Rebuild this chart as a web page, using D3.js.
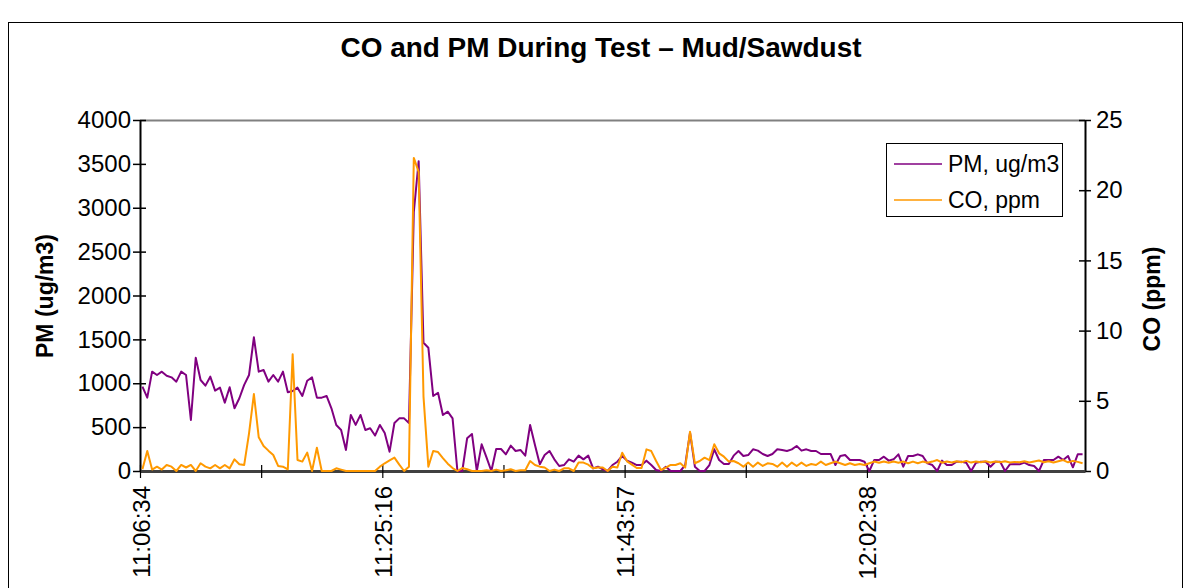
<!DOCTYPE html>
<html><head><meta charset="utf-8">
<script src="https://cdn.jsdelivr.net/npm/d3@7"></script>
<style>
body{margin:0;background:#fff}
svg{display:block}
text{font-family:"Liberation Sans",Arial,sans-serif;fill:#000}
</style>
</head><body>
<svg id="c" width="1189" height="588"></svg>
<script>
// PM, ug/m3 (one sample per category)
const pm = [961,836,1132,1094,1132,1086,1067,1018,1132,1094,
 581,1291,1037,973,1075,916,950,779,954,715,
 829,981,1094,1523,1132,1151,1018,1094,1018,1132,
 897,912,950,855,1029,1067,836,836,855,715,
 525,468,240,639,525,639,468,487,404,525,
 433,220,547,600,600,547,2950,3530,1462,1405,
 855,892,638,676,600,0,0,372,422,0,
 304,156,0,251,251,190,289,228,240,175,
 524,296,76,183,228,133,57,68,133,106,
 175,133,175,30,49,19,0,68,106,171,
 118,95,68,68,118,68,11,0,49,0,
 0,0,68,437,49,0,0,68,247,125,
 80,80,175,228,171,182,247,232,194,171,
 194,247,240,228,247,285,232,247,228,228,
 194,194,194,68,171,182,125,125,125,106,
 0,125,125,163,118,133,190,49,171,171,
 190,171,87,68,0,118,68,68,106,106,
 95,0,95,106,106,49,106,106,0,76,
 76,76,95,68,57,0,125,125,125,163,
 125,171,42,190,190];
// CO, ppm
const co = [0.12,1.42,0.1,0.31,0.1,0.43,0.31,0,0.43,0.25,
 0.43,0,0.55,0.31,0.19,0.43,0.19,0.43,0.19,0.83,
 0.48,0.43,2.68,5.48,2.4,1.78,1.45,1.14,0.36,0.31,
 0.12,8.31,0.78,0.67,1.31,0,1.66,0,0,0,
 0.19,0.1,0,0,0,0,0,0,0,0.31,
 0.55,0.75,0.95,0.45,0,0.3,22.3,21.3,5.3,0.3,
 1.42,1.35,0.92,0.52,0.21,0,0.21,0.12,0,0,
 0,0.05,0,0.1,0,0.05,0.12,0,0.05,0.05,
 0.71,0.43,0.31,0.25,0,0.1,0,0.19,0.19,0,
 0.6,0.6,0.45,0.19,0.25,0.25,0,0.31,0.25,1.3,
 0.69,0.45,0.21,0.21,1.54,1.42,0.71,0.07,0.24,0.43,
 0.43,0.55,0.24,2.8,0.55,0.71,0.95,0.78,1.9,1.26,
 1.02,0.67,0.71,0.55,0.31,0.6,0.31,0.6,0.36,0.55,
 0.5,0.31,0.6,0.31,0.6,0.36,0.6,0.36,0.5,0.43,
 0.67,0.43,0.55,0.67,0.55,0.43,0.55,0.43,0.5,0.43,
 0.55,0.67,0.59,0.67,0.59,0.67,0.59,0.67,0.55,0.67,
 0.55,0.67,0.59,0.67,0.78,0.59,0.67,0.6,0.7,0.62,
 0.72,0.6,0.68,0.62,0.7,0.6,0.68,0.62,0.7,0.6,
 0.65,0.62,0.7,0.6,0.68,0.75,0.62,0.7,0.6,0.7,
 0.78,0.62,0.72,0.65,0.55];
const timeLabels = ["11:06:34","11:25:16","11:43:57","12:02:38"];
const labelEvery = 50, tickEvery = 25;
const pmTicks = [0,500,1000,1500,2000,2500,3000,3500,4000];
const coTicks = [0,5,10,15,20,25];
const seriesNames = ["PM, ug/m3","CO, ppm"];
const colors = ["#800080","#FF9900"];

const svg = d3.select("#c");
const L = 140, R = 1085, T = 120, B = 471;
// category axis: points sit in the middle of each category band, ticks on band edges
const n = pm.length;
const xb = d3.scaleLinear().domain([0, n]).range([L, R]);
const xc = i => xb(i + 0.5);
const yL = d3.scaleLinear().domain([0, 4000]).range([B, T]);
const yR = d3.scaleLinear().domain([0, 25]).range([B, T]);
const FONT = "Liberation Sans, Arial, sans-serif";

// outer frame
svg.append("rect").attr("x",8.5).attr("y",22.5).attr("width",1174).attr("height",600)
  .attr("fill","none").attr("stroke","#000").attr("stroke-width",1);

// title
svg.append("text").attr("x",601).attr("y",57).attr("text-anchor","middle")
  .attr("font-size",27).attr("font-weight","bold")
  .attr("textLength",521).attr("lengthAdjust","spacingAndGlyphs")
  .text("CO and PM During Test – Mud/Sawdust");

// plot top border
svg.append("line").attr("x1",L).attr("x2",R).attr("y1",T+0.5).attr("y2",T+0.5)
  .attr("stroke","#808080").attr("stroke-width",2);

// left axis
const gL = svg.append("g").attr("transform",`translate(${L},0)`)
  .call(d3.axisLeft(yL).tickValues(pmTicks).tickSize(7).tickSizeOuter(0).tickPadding(2).tickFormat(d3.format("d")));
gL.select(".domain").attr("stroke","#000").attr("stroke-width",2);
gL.selectAll(".tick line").attr("x1",6).attr("x2",-7).attr("stroke","#000").attr("stroke-width",1.5);
gL.selectAll(".tick text").attr("font-size",24).attr("font-family",FONT);

// right axis
const gR = svg.append("g").attr("transform",`translate(${R},0)`)
  .call(d3.axisRight(yR).tickValues(coTicks).tickSize(6).tickSizeOuter(0).tickPadding(5).tickFormat(d3.format("d")));
gR.select(".domain").attr("stroke","#000").attr("stroke-width",2);
gR.selectAll(".tick line").attr("x1",-6).attr("x2",6).attr("stroke","#000").attr("stroke-width",1.5);
gR.selectAll(".tick text").attr("font-size",24).attr("font-family",FONT);

// bottom axis (ticks every 25 categories, labels every 50)
const catTicks = d3.range(0, n, tickEvery);
const gB = svg.append("g").attr("transform",`translate(0,${B})`)
  .call(d3.axisBottom(xb).tickValues(catTicks).tickSize(7).tickSizeOuter(0)
    .tickFormat(i => i % labelEvery === 0 ? timeLabels[i / labelEvery] : ""));
gB.select(".domain").attr("stroke","#404040").attr("stroke-width",3);
gB.selectAll(".tick line").attr("y1",-6).attr("y2",7).attr("stroke","#000").attr("stroke-width",1.2);
gB.selectAll(".tick text").attr("font-size",24).attr("font-family",FONT)
  .attr("transform","rotate(-90)").attr("text-anchor","end")
  .attr("x",-15).attr("y",9).attr("dy",0);

// axis titles
svg.append("text").attr("transform","translate(53,296) rotate(-90)").attr("text-anchor","middle")
  .attr("font-size",23).attr("font-weight","bold").text("PM (ug/m3)");
svg.append("text").attr("transform","translate(1160,299) rotate(-90)").attr("text-anchor","middle")
  .attr("font-size",23).attr("font-weight","bold").text("CO (ppm)");

// lines
const linePM = d3.line().x((d,i) => xc(i)).y(d => yL(d));
const lineCO = d3.line().x((d,i) => xc(i)).y(d => yR(d));
svg.append("path").datum(pm).attr("d",linePM).attr("fill","none")
  .attr("stroke",colors[0]).attr("stroke-width",2).attr("stroke-linejoin","round");
svg.append("path").datum(co).attr("d",lineCO).attr("fill","none")
  .attr("stroke",colors[1]).attr("stroke-width",2).attr("stroke-linejoin","round");

// legend
const lg = svg.append("g");
lg.append("rect").attr("x",886.5).attr("y",143.5).attr("width",176).attr("height",73)
  .attr("fill","#fff").attr("stroke","#000").attr("stroke-width",1);
seriesNames.forEach((nm, k) => {
  const yy = 164 + k * 36;
  lg.append("line").attr("x1",894).attr("x2",942).attr("y1",yy).attr("y2",yy)
    .attr("stroke",colors[k]).attr("stroke-width",1.5);
  lg.append("text").attr("x",948).attr("y",yy + 8).attr("font-size",23).text(nm);
});
</script>
</body></html>
